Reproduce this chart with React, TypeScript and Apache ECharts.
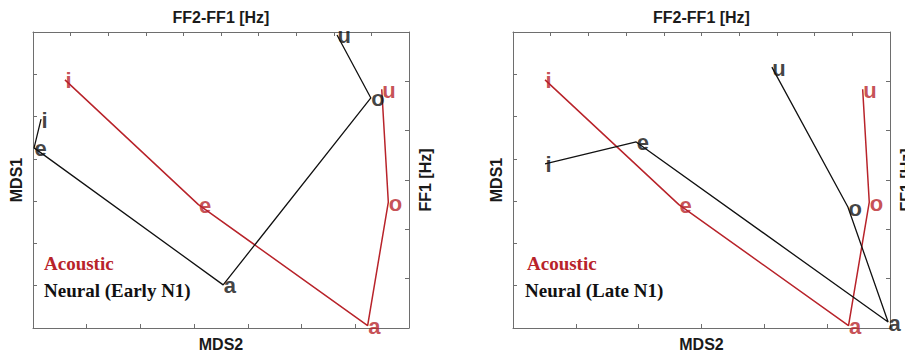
import React, { useEffect, useRef } from "react";
import * as echarts from "echarts";

// Vowel order along both polylines
const vowels = ["i", "e", "a", "o", "u"];

// Acoustic (same in both panels): FF2-FF1 [Hz] (top axis), FF1 [Hz] (right axis)
const acousticF2F1 = [2230, 1520, 620, 510, 545];
const acousticF1 = [297, 550, 795, 545, 316];

// Neural, Early N1: MDS2 (bottom axis), MDS1 (left axis)
const earlyMDS2 = [-0.385, -0.398, -0.046, 0.229, 0.166];
const earlyMDS1 = [0.194, 0.126, -0.198, 0.244, 0.393];

// Neural, Late N1
const lateMDS2 = [-0.249, -0.104, 0.297, 0.233, 0.112];
const lateMDS1 = [0.088, 0.14, -0.286, -0.014, 0.317];

const panelTexts = ["Neural (Early N1)", "Neural (Late N1)"];
const legendAcoustic = "Acoustic";

const RED = "#b8232a";
const BLACK = "#111111";
const FRAME = "#6e6e6e";
const SANS = '"Liberation Sans", Arial, Helvetica, sans-serif';
const SERIF = '"Liberation Serif", "Times New Roman", serif';

function pts(xs: number[], ys: number[]) {
  return xs.map((x, i) => ({ name: vowels[i], value: [x, ys[i]] }));
}

const nameStyle = {
  fontWeight: "bold" as const,
  fontSize: 16,
  fontFamily: SANS,
  color: "#1a1a1a",
};

function axisBase() {
  return {
    type: "value" as const,
    axisLine: { show: true, onZero: false, lineStyle: { color: FRAME, width: 1 } },
    axisTick: { show: true, inside: true, length: 4, lineStyle: { color: FRAME } },
    axisLabel: { show: false },
    splitLine: { show: false },
    nameLocation: "middle" as const,
    nameTextStyle: nameStyle,
  };
}

function lineSeries(data: any[], xi: number, yi: number, color: string, width: number) {
  return {
    type: "line",
    xAxisIndex: xi,
    yAxisIndex: yi,
    data,
    showSymbol: false,
    symbol: "none",
    lineStyle: { color, width },
    silent: true,
    z: 2,
  };
}

function labelSeries(data: any[], xi: number, yi: number, color: string) {
  return {
    type: "scatter",
    xAxisIndex: xi,
    yAxisIndex: yi,
    data,
    symbolSize: 1,
    itemStyle: { color: "rgba(0,0,0,0)" },
    label: {
      show: true,
      formatter: "{b}",
      position: "right",
      distance: 0,
      offset: [0, 1],
      color,
      fontWeight: "bold",
      fontSize: 22,
      fontFamily: SANS,
    },
    silent: true,
    z: 3,
  };
}

export default function App() {
  const ref = useRef<HTMLDivElement>(null);

  useEffect(() => {
    if (!ref.current) return;
    const chart = echarts.init(ref.current, undefined, { renderer: "svg" });

    const grids = [
      { left: 33, top: 32, width: 376, height: 296, outerBoundsMode: "none", containLabel: false },
      { left: 513, top: 32, width: 377, height: 296, outerBoundsMode: "none", containLabel: false },
    ];

    const xAxis = [
      { ...axisBase(), gridIndex: 0, position: "bottom", name: "MDS2", nameGap: 8, min: -0.4, max: 0.3, interval: 0.1 },
      { ...axisBase(), gridIndex: 0, position: "top", name: "FF2-FF1 [Hz]", nameGap: 7, inverse: true, min: 400, max: 2400, interval: 200 },
      { ...axisBase(), gridIndex: 1, position: "bottom", name: "MDS2", nameGap: 8, min: -0.3, max: 0.3, interval: 0.1 },
      { ...axisBase(), gridIndex: 1, position: "top", name: "FF2-FF1 [Hz]", nameGap: 7, inverse: true, min: 400, max: 2400, interval: 200 },
    ];
    const yAxis = [
      { ...axisBase(), gridIndex: 0, position: "left", name: "MDS1", nameGap: 9, nameRotate: 90, min: -0.3, max: 0.4, interval: 0.1 },
      { ...axisBase(), gridIndex: 0, position: "right", name: "FF1 [Hz]", nameGap: 8, nameRotate: 90, inverse: true, min: 200, max: 800, interval: 100 },
      { ...axisBase(), gridIndex: 1, position: "left", name: "MDS1", nameGap: 9, nameRotate: 90, min: -0.3, max: 0.4, interval: 0.1 },
      { ...axisBase(), gridIndex: 1, position: "right", name: "FF1 [Hz]", nameGap: 8, nameRotate: 90, inverse: true, min: 200, max: 800, interval: 100 },
    ];

    const ac = pts(acousticF2F1, acousticF1);
    const early = pts(earlyMDS2, earlyMDS1);
    const late = pts(lateMDS2, lateMDS1);

    const series = [
      lineSeries(ac, 1, 1, RED, 1.5),
      lineSeries(early, 0, 0, BLACK, 1.3),
      lineSeries(ac, 3, 3, RED, 1.5),
      lineSeries(late, 2, 2, BLACK, 1.3),
      labelSeries(ac, 1, 1, RED),
      labelSeries(early, 0, 0, BLACK),
      labelSeries(ac, 3, 3, RED),
      labelSeries(late, 2, 2, BLACK),
    ];

    const legendText = (x: number, y: number, text: string, color: string) => ({
      type: "text",
      x,
      y,
      z: 10,
      style: {
        text,
        fill: color,
        font: `bold 19px ${SERIF}`,
        textAlign: "left",
        textVerticalAlign: "middle",
        align: "left",
        verticalAlign: "middle",
      },
    });

    chart.setOption({
      animation: false,
      backgroundColor: "#ffffff",
      grid: grids,
      xAxis,
      yAxis,
      series,
      graphic: [
        legendText(44, 263, legendAcoustic, RED),
        legendText(44, 290, panelTexts[0], BLACK),
        legendText(527, 263, legendAcoustic, RED),
        legendText(525, 290, panelTexts[1], BLACK),
      ],
    });

    return () => chart.dispose();
  }, []);

  return (
    <div
      ref={ref}
      style={{ position: "fixed", left: 0, top: 0, width: 905, height: 352, background: "#fff" }}
    />
  );
}
